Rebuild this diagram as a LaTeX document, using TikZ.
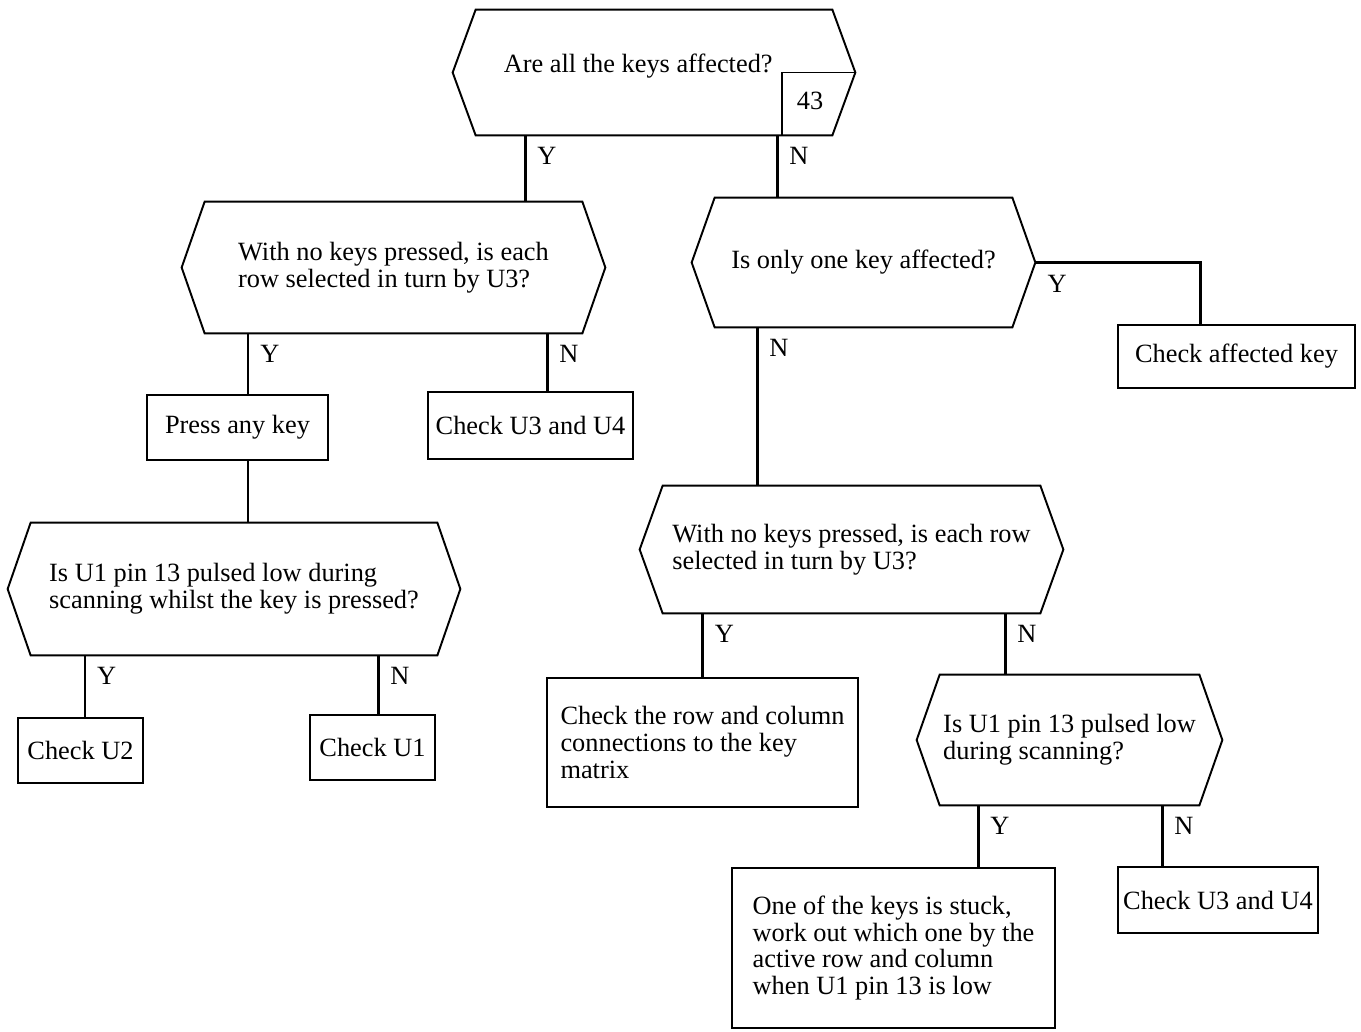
\documentclass[tikz,border=0pt]{standalone}
\usepackage{fontspec}
\setmainfont{Liberation Serif}
\usepackage{xcolor}
\usetikzlibrary{positioning}

\begin{document}
\begin{tikzpicture}[x=0.02cm,y=-0.02cm,font=\fontsize{15}{15.3}\selectfont,
                ask/.style 2 args={align=left,inner sep=0pt,minimum width=#1*0.02cm,minimum height=#2*0.02cm},
                box/.style 2 args={draw,line width=1.1pt,align=left,inner sep=0pt,minimum width=#1*0.02cm,minimum height=#2*0.02cm},
                link/.style={line width=1.7pt},
                yn/.style={anchor=north west,inner sep=1pt,xshift=0.18cm,yshift=-0.18cm}]
                \useasboundingbox (0,0) rectangle (1361,1031);
                % questions
                \node[ask={402}{125}] (q1) at (654,72.5) {\raisebox{3.7pt}[\height][\depth]{Are all the keys affected?}\kern18pt};
                \node[ask={423}{131}] (q2) at (393.5,267.5) {With no keys pressed, is each\\row selected in turn by U3?};
                \node[ask={343}{129}] (q3) at (863.5,262.5) {Is only one key affected?};
                \node[ask={452}{132}] (q4) at (234,589) {Is U1 pin 13 pulsed low during\\scanning whilst the key is pressed?};
                \node[ask={423}{127}] (q5) at (851.5,549.5) {With no keys pressed, is each row\\selected in turn by U3?};
                \node[ask={305}{130}] (q6) at (1069.5,740) {Is U1 pin 13 pulsed low\\during scanning?};
                \foreach \q in {q1,q2,q3,q4,q5,q6} \draw[line width=1.1pt] (\q.west) -- ([xshift=0.46cm]\q.north west) -- ([xshift=-0.46cm]\q.north east) -- (\q.east) -- ([xshift=-0.46cm]\q.south east) -- ([xshift=0.46cm]\q.south west) -- cycle;
                \node[minimum width=1.12cm,inner sep=0pt] (n43) at (810,101) {43};
                \draw[line width=1.1pt] (q1.south -| n43.west) |- (q1.east);
                % answers
                \node[box={181}{65}] (press) at (237.5,427.5) {Press any key};
                \node[box={205}{67}] (cu34a) at (530.5,425.5) {Check U3 and U4};
                \node[box={125}{65}] (cu2) at (80.5,750.5) {Check U2};
                \node[box={125}{65}] (cu1) at (372.5,747.5) {Check U1};
                \node[box={237}{63}] (caff) at (1236.5,356.5) {Check affected key};
                \node[box={311}{129}] (crow) at (702.5,742.5) {Check the row and column\\connections to the key\\matrix};
                \node[box={323}{160}] (stuck) at (893.5,948) {One of the keys is stuck,\\work out which one by the\\active row and column\\when U1 pin 13 is low};
                \node[box={200}{66}] (cu34b) at (1218,900) {Check U3 and U4};
                % connectors
                \foreach \n/\x in {j12/525,j13/777,j2a/248,j2b/547,j4a/85,j4b/378,jka/1200,j35/757,j5b/1005,j6a/978,j6b/1162} \coordinate (\n) at (\x,0);
                \draw[link] (q1.south -| j12) node[yn] {Y} -- (q2.north -| j12);
                \draw[link] (q1.south -| j13) node[yn] {N} -- (q3.north -| j13);
                \draw[link] (q2.south -| j2a) node[yn] {Y} -- (press.north -| j2a);
                \draw[link] (q2.south -| j2b) node[yn] {N} -- (cu34a.north -| j2b);
                \draw[link] (press.south -| j2a) -- (q4.north -| j2a);
                \draw[link] (q4.south -| j4a) node[yn] {Y} -- (cu2.north -| j4a);
                \draw[link] (q4.south -| j4b) node[yn] {N} -- (cu1.north -| j4b);
                \draw[link] (q3.east) node[yn] {Y} -| (caff.north -| jka);
                \draw[link] (q3.south -| j35) node[yn] {N} -- (q5.north -| j35);
                \draw[link] (q5.south -| crow.north) node[yn] {Y} -- (crow.north);
                \draw[link] (q5.south -| j5b) node[yn] {N} -- (q6.north -| j5b);
                \draw[link] (q6.south -| j6a) node[yn] {Y} -- (stuck.north -| j6a);
                \draw[link] (q6.south -| j6b) node[yn] {N} -- (cu34b.north -| j6b);
            \end{tikzpicture}
\end{document}
